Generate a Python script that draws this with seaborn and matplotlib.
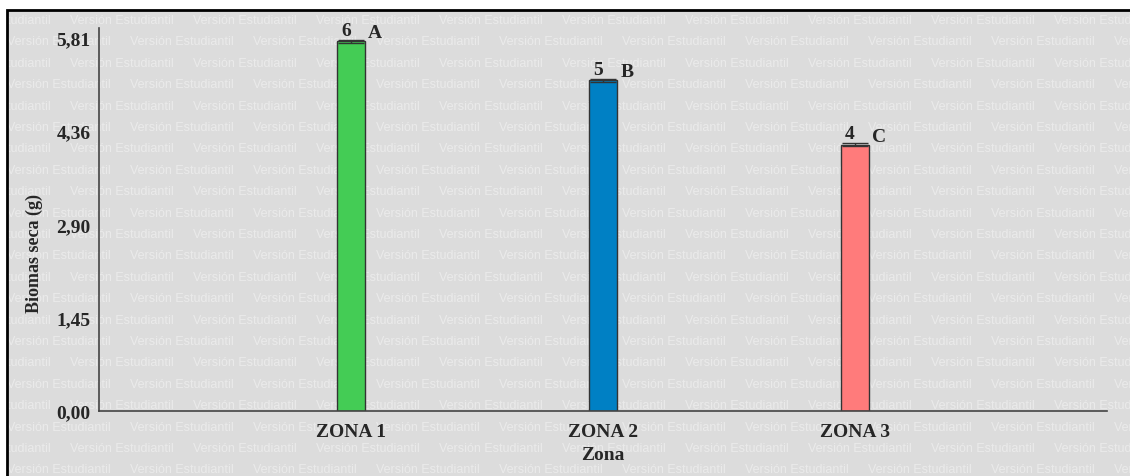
import matplotlib
matplotlib.use("Agg")
import matplotlib.pyplot as plt
import seaborn as sns
import pandas as pd
from matplotlib.patches import Rectangle

# ---- data ----
zonas = ["ZONA 1", "ZONA 2", "ZONA 3"]
biomasa = [5.76, 5.15, 4.15]
errores = [0.02, 0.02, 0.02]
n_labels = ["6", "5", "4"]
letras = ["A", "B", "C"]
colores = ["#44CC55", "#0080C4", "#FF7B7B"]
yticks = [0.0, 1.45, 2.90, 4.36, 5.81]
ytick_labels = ["0,00", "1,45", "2,90", "4,36", "5,81"]

df = pd.DataFrame({"Zona": zonas, "Biomasa": biomasa})

sns.set_style("white")
serif = ["Liberation Serif", "DejaVu Serif"]
plt.rcParams["font.family"] = serif

W, H = 1130, 477
fig = plt.figure(figsize=(W / 100, H / 100), dpi=100)
fig.patch.set_facecolor("white")

# gray panel
px0 = 7 / W
ptop = 1 - 11 / H
panel = Rectangle((px0, -0.01), 1.02 - px0, ptop + 0.01, transform=fig.transFigure,
                  facecolor="#DCDCDC", edgecolor="none", zorder=0)
fig.patches.append(panel)

# watermark
row_y = 21.0
k = 0
while row_y < H + 15:
    x0 = 70 if k % 2 == 0 else 7
    x = x0 - 123 * 2
    while x < W + 10:
        t = fig.text(x / W, 1 - row_y / H, "Versión Estudiantil", color="white", alpha=0.42,
                     fontsize=9, family=["Liberation Sans", "DejaVu Sans"],
                     ha="left", va="center", zorder=0.5)
        t.set_clip_path(panel)
        x += 123
    row_y += 21.4
    k += 1

# panel border on top of the watermark
border = Rectangle((px0, -0.01), 1.02 - px0, ptop + 0.01, transform=fig.transFigure,
                   facecolor="none", edgecolor="black", linewidth=2.0, zorder=1)
fig.patches.append(border)

ax = fig.add_axes([99 / W, 1 - 412 / H, (1107 - 99) / W, (412 - 29) / H])
ax.set_zorder(5)
ax.set_facecolor("none")
ax.patch.set_alpha(0)

sns.barplot(data=df, x="Zona", y="Biomasa", hue="Zona", palette=colores, width=0.108,
            saturation=1, edgecolor="#333333", linewidth=1.0, legend=False, ax=ax, zorder=2)
ax.errorbar(range(len(zonas)), biomasa, yerr=errores, fmt="none", ecolor="#333333",
            elinewidth=1, capsize=9.5, capthick=1, zorder=3)

for i, (v, e) in enumerate(zip(biomasa, errores)):
    ax.annotate(n_labels[i], (i - 0.02, v + e), xytext=(0, 1), textcoords="offset points",
                ha="center", va="bottom", fontsize=14, fontweight="bold")
    ax.annotate(letras[i], (i + 0.095, v + e), xytext=(0, -1), textcoords="offset points",
                ha="center", va="bottom", fontsize=14, fontweight="bold")

ax.set_xlim(-1, 3)
ax.set_ylim(0, 5.966)
ax.set_yticks(yticks)
ax.set_yticklabels(ytick_labels)
for s in ["top", "right"]:
    ax.spines[s].set_visible(False)
for s in ["left", "bottom"]:
    ax.spines[s].set_color("#444444")
    ax.spines[s].set_linewidth(1.2)
ax.tick_params(axis="both", direction="out", length=4, width=1, color="#444444",
               labelsize=14, pad=2)
for lab in ax.get_xticklabels() + ax.get_yticklabels():
    lab.set_fontweight("bold")
ax.tick_params(axis="x", pad=5)
ax.set_xlabel("Zona", fontsize=14, fontweight="bold", labelpad=4)
ax.set_ylabel("Biomas seca (g)", fontsize=13, fontweight="bold")
ax.yaxis.set_label_coords((43 - 99) / (1107 - 99), (412 - 254) / (412 - 29))

fig.savefig("out.png", dpi=100)
